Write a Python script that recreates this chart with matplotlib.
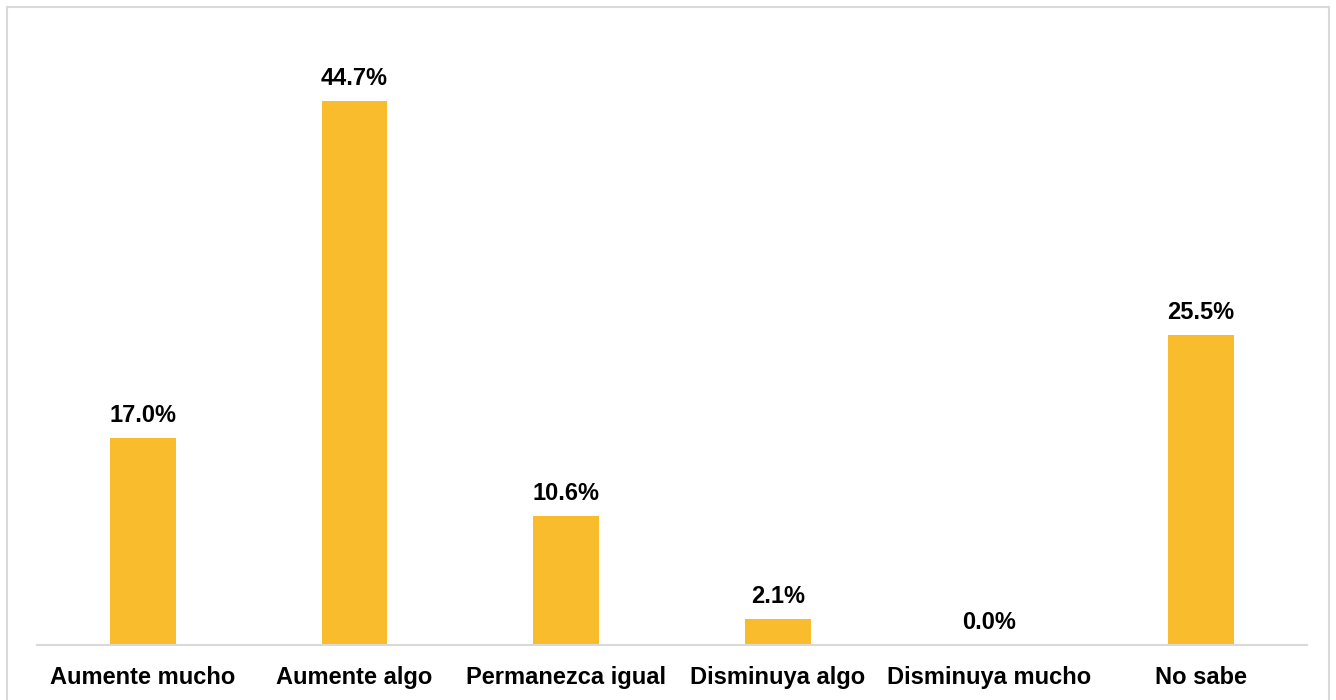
import matplotlib.pyplot as plt
from matplotlib.patches import Rectangle

# Data
categories = ['Aumente mucho', 'Aumente algo', 'Permanezca igual',
              'Disminuya algo', 'Disminuya mucho', 'No sabe']
values = [17.0, 44.7, 10.6, 2.1, 0.0, 25.5]

bar_color = '#F9BC2C'
grid_gray = '#D9D9D9'

plt.rcParams['font.family'] = ['Liberation Sans', 'DejaVu Sans']

fig = plt.figure(figsize=(13.36, 7.0), dpi=100)

# outer chart border (bottom runs off the image)
fig.patches.append(Rectangle((7 / 1336, -0.05), 1322 / 1336, 1.05 - 7 / 700,
                             transform=fig.transFigure, fill=False,
                             edgecolor=grid_gray, linewidth=1.5))

ax = fig.add_axes([37 / 1336, 55 / 700, 1270 / 1336, 625 / 700])
x = list(range(len(categories)))
ax.bar(x, values, width=0.31, color=bar_color)

ax.set_xlim(-0.5, len(categories) - 0.5)
ax.set_ylim(0, 625 / 12.17)

for xi, v in zip(x, values):
    ax.annotate(f'{v:.1f}%', (xi, v), xytext=(0, 8), textcoords='offset points',
                ha='center', va='bottom', fontsize=17, fontweight='bold')

ax.set_xticks(x)
ax.set_xticklabels(categories, fontsize=17, fontweight='bold')
ax.tick_params(axis='x', length=0, pad=15)
ax.set_yticks([])

for side in ['top', 'right', 'left']:
    ax.spines[side].set_visible(False)
ax.spines['bottom'].set_color(grid_gray)
ax.spines['bottom'].set_linewidth(1.5)

fig.savefig('out.png', dpi=100)
